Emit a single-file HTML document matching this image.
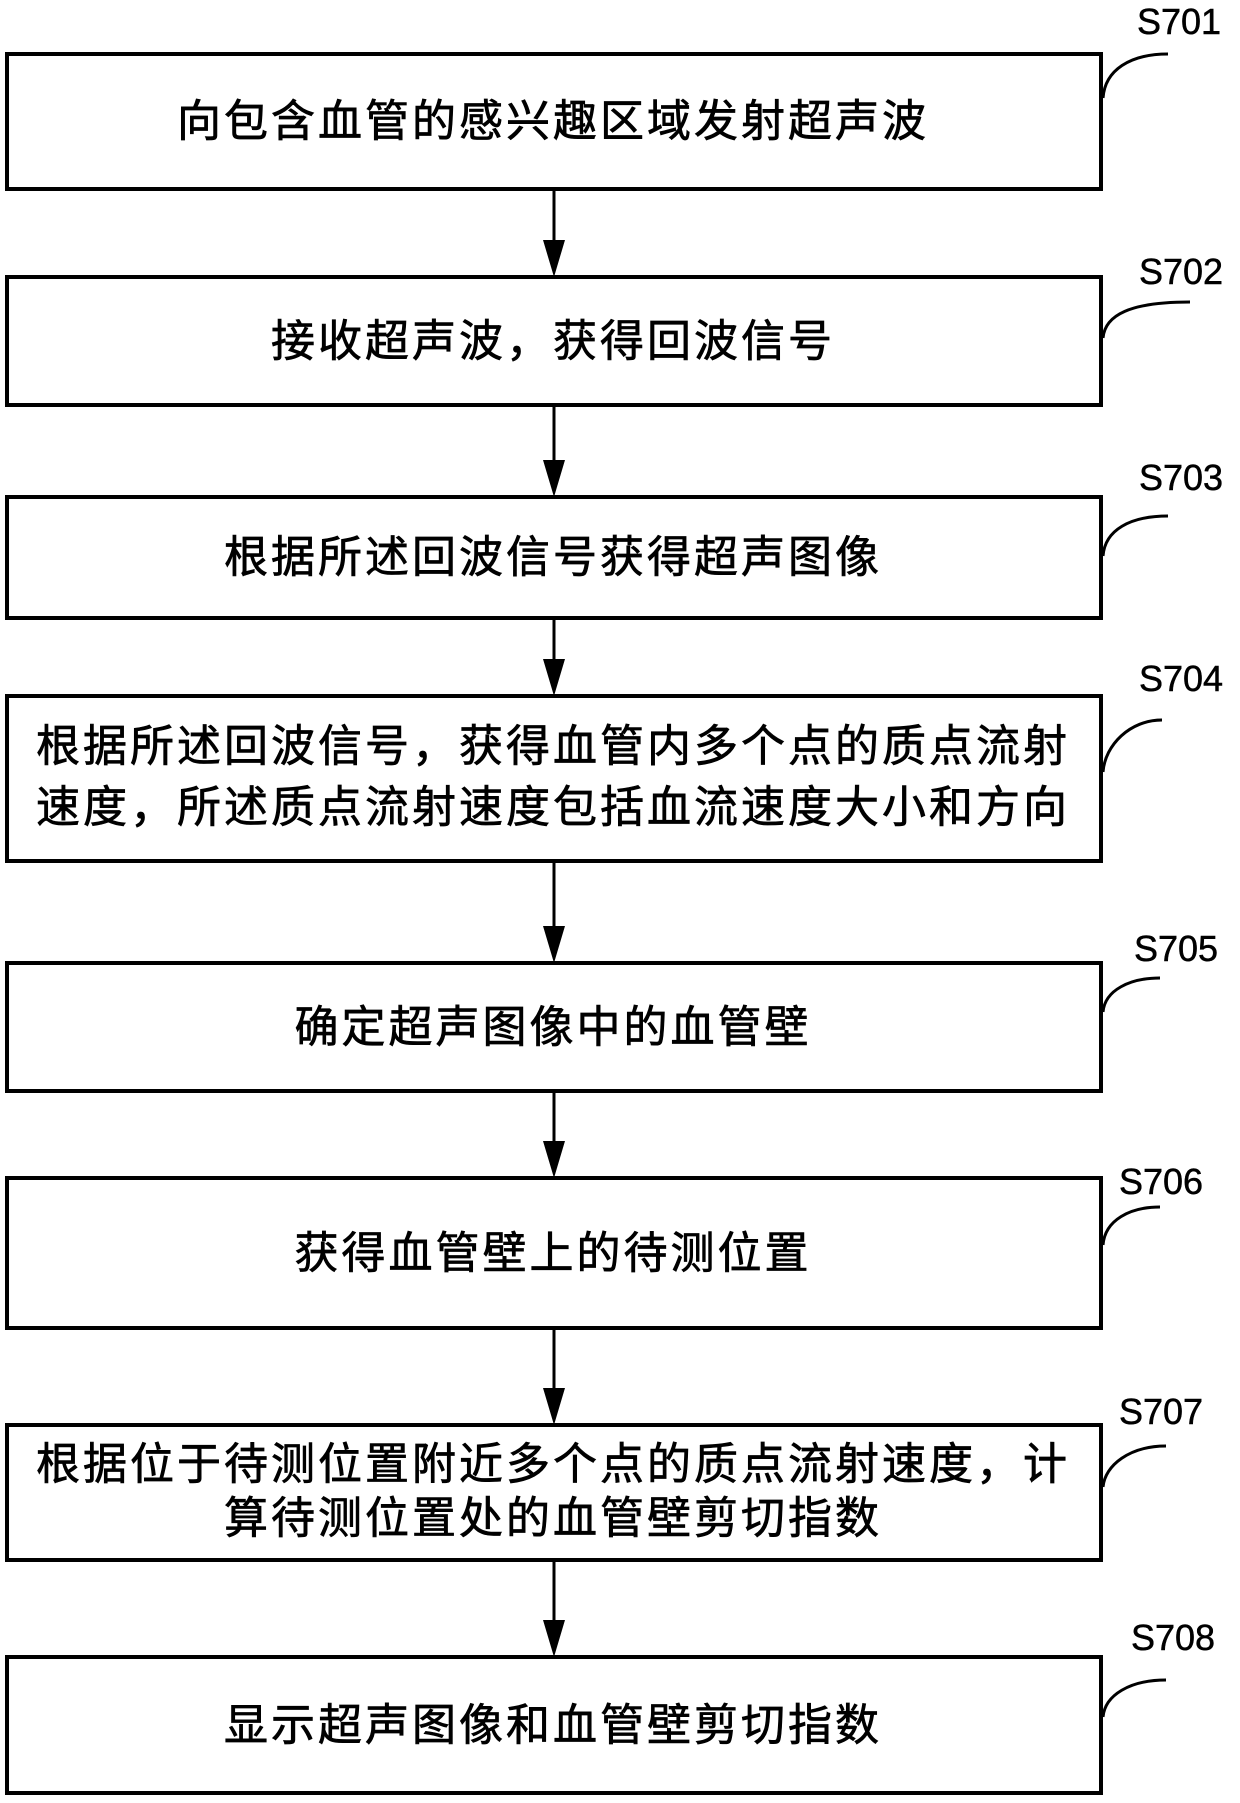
<!DOCTYPE html>
<html><head><meta charset="utf-8"><style>
html,body{margin:0;padding:0;background:#fff;}
svg{display:block;}
.t{font-family:"Liberation Sans","Noto Sans CJK SC",sans-serif;font-size:44px;letter-spacing:3px;fill:#000;stroke:#000;stroke-width:0.7;}
.l{font-family:"Liberation Sans",sans-serif;font-size:36px;fill:#000;stroke:#000;stroke-width:0.5;}
</style></head><body>
<svg width="1240" height="1803" viewBox="0 0 1240 1803" xmlns="http://www.w3.org/2000/svg">
<g fill="none" stroke="#000" stroke-width="4">
<rect x="7" y="54" width="1094" height="135"/>
<rect x="7" y="277" width="1094" height="128"/>
<rect x="7" y="497" width="1094" height="121"/>
<rect x="7" y="696" width="1094" height="165"/>
<rect x="7" y="963" width="1094" height="128"/>
<rect x="7" y="1178" width="1094" height="150"/>
<rect x="7" y="1425" width="1094" height="135"/>
<rect x="7" y="1657" width="1094" height="136"/>
</g>
<g stroke="#000" stroke-width="3">
<line x1="554" y1="191" x2="554" y2="245"/>
<line x1="554" y1="407" x2="554" y2="465"/>
<line x1="554" y1="620" x2="554" y2="664"/>
<line x1="554" y1="863" x2="554" y2="931"/>
<line x1="554" y1="1093" x2="554" y2="1146"/>
<line x1="554" y1="1330" x2="554" y2="1393"/>
<line x1="554" y1="1562" x2="554" y2="1625"/>
</g>
<g fill="#000">
<polygon points="543,240 565,240 554,277"/>
<polygon points="543,460 565,460 554,497"/>
<polygon points="543,659 565,659 554,696"/>
<polygon points="543,926 565,926 554,963"/>
<polygon points="543,1141 565,1141 554,1178"/>
<polygon points="543,1388 565,1388 554,1425"/>
<polygon points="543,1620 565,1620 554,1657"/>
</g>
<g fill="none" stroke="#000" stroke-width="3">
<path d="M1103,98 C1105,70 1130,54 1168,54"/>
<path d="M1103,338 C1105,315 1130,302 1190,302"/>
<path d="M1103,556 C1105,530 1130,516 1168,516"/>
<path d="M1103,772 C1105,745 1130,720 1162,720"/>
<path d="M1103,1012 C1105,990 1130,978 1160,978"/>
<path d="M1103,1245 C1105,1220 1130,1207 1160,1207"/>
<path d="M1103,1487 C1105,1465 1130,1446 1166,1446"/>
<path d="M1103,1717 C1105,1695 1130,1680 1166,1680"/>
</g>
<g class="l">
<text x="1137" y="34">S701</text>
<text x="1139" y="284">S702</text>
<text x="1139" y="490">S703</text>
<text x="1139" y="691">S704</text>
<text x="1134" y="961">S705</text>
<text x="1119" y="1194">S706</text>
<text x="1119" y="1424">S707</text>
<text x="1131" y="1650">S708</text>
</g>
<g class="t" text-anchor="middle">
<text x="553" y="136">向包含血管的感兴趣区域发射超声波</text>
<text x="553" y="356">接收超声波，获得回波信号</text>
<text x="553" y="572">根据所述回波信号获得超声图像</text>
<text x="553" y="761">根据所述回波信号，获得血管内多个点的质点流射</text>
<text x="553" y="822">速度，所述质点流射速度包括血流速度大小和方向</text>
<text x="553" y="1042">确定超声图像中的血管壁</text>
<text x="553" y="1268">获得血管壁上的待测位置</text>
<text x="553" y="1479">根据位于待测位置附近多个点的质点流射速度，计</text>
<text x="553" y="1533">算待测位置处的血管壁剪切指数</text>
<text x="553" y="1740">显示超声图像和血管壁剪切指数</text>
</g>
</svg>
</body></html>
